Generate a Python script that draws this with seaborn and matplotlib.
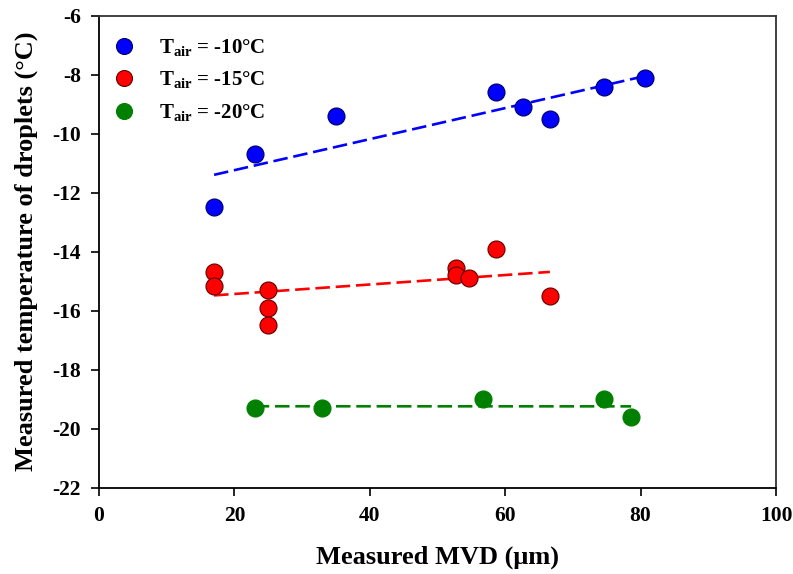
import numpy as np
import pandas as pd
import matplotlib
matplotlib.use("Agg")
import matplotlib.pyplot as plt
import seaborn as sns

# Measured MVD (um) and droplet temperature (deg C) for each air temperature
mvd_m10 = [17, 23, 35, 58.7, 62.7, 66.6, 74.6, 80.6]
temp_m10 = [-12.5, -10.7, -9.4, -8.6, -9.1, -9.5, -8.4, -8.1]

mvd_m15 = [17, 17, 25, 25, 25, 52.7, 52.7, 54.7, 58.7, 66.6]
temp_m15 = [-14.7, -15.15, -15.3, -15.9, -16.5, -14.55, -14.8, -14.9, -13.9, -15.5]

mvd_m20 = [23, 33, 56.7, 74.6, 78.6]
temp_m20 = [-19.3, -19.3, -19.0, -19.0, -19.6]

series_labels = [r"$\mathbf{T_{air}}$ = -10°C",
                 r"$\mathbf{T_{air}}$ = -15°C",
                 r"$\mathbf{T_{air}}$ = -20°C"]
colors = ["#0000ff", "#ff0000", "#008000"]
edge_colors = ["#000060", "#600000", "#008000"]

x_ticks = [0, 20, 40, 60, 80, 100]
y_ticks = [-22, -20, -18, -16, -14, -12, -10, -8, -6]

frames = []
for lab, xs, ys in zip(series_labels,
                       [mvd_m10, mvd_m15, mvd_m20],
                       [temp_m10, temp_m15, temp_m20]):
    frames.append(pd.DataFrame({"mvd": xs, "temp": ys, "group": lab}))
df = pd.concat(frames, ignore_index=True)

sns.set_style("ticks")
plt.rcParams["font.family"] = ["Liberation Serif", "DejaVu Serif"]
plt.rcParams["font.weight"] = "bold"
plt.rcParams["text.color"] = "black"
plt.rcParams["axes.labelcolor"] = "black"
plt.rcParams["xtick.color"] = "black"
plt.rcParams["ytick.color"] = "black"
plt.rcParams["mathtext.fontset"] = "custom"
plt.rcParams["mathtext.rm"] = "Liberation Serif:bold"
plt.rcParams["mathtext.bf"] = "Liberation Serif:bold"
plt.rcParams["mathtext.it"] = "Liberation Serif:bold"

fig = plt.figure(figsize=(7.93, 5.74), dpi=100)
ax = fig.add_axes([0.1248, 0.1503, 0.8538, 0.8223])

# Linear fits (dashed) for each group
for lab, col in zip(series_labels, colors):
    sub = df[df["group"] == lab]
    sns.regplot(data=sub, x="mvd", y="temp", ax=ax, scatter=False, ci=None,
                truncate=True,
                line_kws=dict(color=col, lw=1.9, dashes=(5.5, 2.2)))

# Data points
handles = []
for lab, col, ec in zip(series_labels, colors, edge_colors):
    sub = df[df["group"] == lab]
    sns.scatterplot(data=sub, x="mvd", y="temp", ax=ax, color=col,
                    edgecolor=ec, linewidth=0.8, s=150, zorder=5, legend=False)
    handles.append(plt.Line2D([], [], ls="none", marker="o", markersize=11.5,
                              markerfacecolor=col, markeredgecolor=ec,
                              markeredgewidth=0.8))

ax.set_xlim(0, 100)
ax.set_ylim(-22, -6)
ax.set_xticks(x_ticks)
ax.set_yticks(y_ticks)
ax.set_xticklabels([str(v) for v in x_ticks], fontsize=15.5, fontweight="bold",
                   color="black")
ax.set_yticklabels([str(v) for v in y_ticks], fontsize=15.5, fontweight="bold",
                   color="black")
ax.tick_params(direction="out", length=6, width=1.2, colors="black",
               top=False, right=False, pad=7)

for side in ["left", "bottom"]:
    ax.spines[side].set_color("black")
    ax.spines[side].set_linewidth(1.3)
for side in ["top", "right"]:
    ax.spines[side].set_color("#333333")
    ax.spines[side].set_linewidth(1.3)

ax.set_xlabel("Measured MVD (μm)", fontsize=19, fontweight="bold", labelpad=14,
              color="black")
ax.set_ylabel("Measured temperature of droplets (°C)", fontsize=19,
              fontweight="bold", labelpad=10, color="black")

leg = ax.legend(handles, series_labels, loc="upper left", frameon=False,
                fontsize=15, handlelength=1.0, handletextpad=1.2,
                labelspacing=0.55, borderaxespad=0.3,
                bbox_to_anchor=(0.0, 0.986))
for t in leg.get_texts():
    t.set_color("black")

fig.savefig("out.png", dpi=100)
